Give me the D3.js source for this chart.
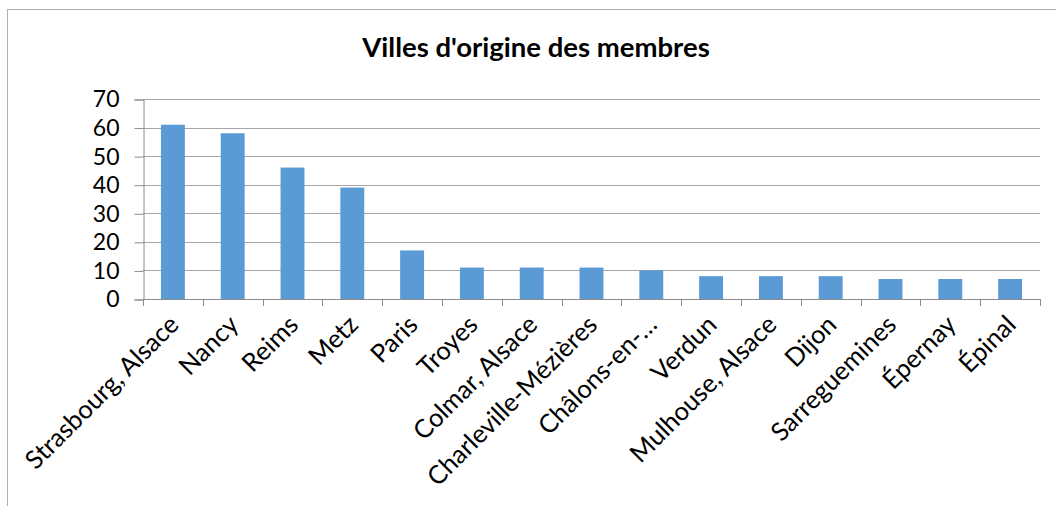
<!DOCTYPE html>
<html lang="fr">
<head>
<meta charset="UTF-8">
<title>Villes d'origine des membres</title>
<script src="https://d3js.org/d3.v7.min.js"></script>
<style>
  body { margin: 0; background: #fff; }
  svg { display: block; font-family: Lato, "Open Sans", sans-serif; }
</style>
</head>
<body>
<div id="chart"></div>
<script>
// données
const villes = ["Strasbourg, Alsace", "Nancy", "Reims", "Metz", "Paris", "Troyes",
  "Colmar, Alsace", "Charleville-Mézières", "Châlons-en-…", "Verdun",
  "Mulhouse, Alsace", "Dijon", "Sarreguemines", "Épernay", "Épinal"];
const membres = [61, 58, 46, 39, 17, 11, 11, 11, 10, 8, 8, 8, 7, 7, 7];
const yTicks = [0, 10, 20, 30, 40, 50, 60, 70];
const titre = "Villes d'origine des membres";

const width = 1056, height = 506;
const plot = { left: 143, right: 1040, top: 99, bottom: 299 };

const svg = d3.select("#chart").append("svg")
  .attr("width", width)
  .attr("height", height);

// cadre du graphique
svg.append("rect")
  .attr("x", 7.5).attr("y", 9.5)
  .attr("width", 1100).attr("height", 600)
  .attr("fill", "none")
  .attr("stroke", "#b0b0b0");

svg.append("text")
  .attr("x", 536).attr("y", 57)
  .attr("text-anchor", "middle")
  .attr("font-weight", "bold")
  .attr("font-size", 27.5)
  .attr("fill", "#000")
  .text(titre);

const x = d3.scaleBand()
  .domain(villes)
  .range([plot.left, plot.right])
  .paddingInner(0.6)
  .paddingOuter(0.3);

const y = d3.scaleLinear()
  .domain([0, 70])
  .range([plot.bottom, plot.top]);

// grille horizontale
svg.append("g")
  .selectAll("line")
  .data(yTicks.filter(d => d > 0))
  .join("line")
  .attr("x1", plot.left).attr("x2", plot.right)
  .attr("y1", d => Math.round(y(d)) + 0.5)
  .attr("y2", d => Math.round(y(d)) + 0.5)
  .attr("stroke", "#a6a6a6");

// axe vertical
const yAxis = svg.append("g")
  .attr("transform", `translate(${plot.left + 0.5},0.5)`)
  .call(d3.axisLeft(y).tickValues(yTicks).tickSize(9).tickPadding(15));
yAxis.select(".domain").attr("stroke", "#8c8c8c");
yAxis.selectAll(".tick line").attr("stroke", "#8c8c8c");
yAxis.selectAll(".tick text")
  .attr("font-size", 23)
  .attr("font-family", "Lato, sans-serif")
  .attr("fill", "#000");

// barres
svg.append("g")
  .selectAll("rect")
  .data(villes.map((v, i) => ({ ville: v, n: membres[i] })))
  .join("rect")
  .attr("x", d => x(d.ville))
  .attr("y", d => y(d.n))
  .attr("width", x.bandwidth())
  .attr("height", d => y(0) - y(d.n))
  .attr("fill", "#5b9bd5");

// axe horizontal avec graduations entre les catégories
const step = x.step();
const bornes = villes.map(v => x(v) - step * 0.3).concat([plot.right]);
const xg = svg.append("g");
xg.append("line")
  .attr("x1", plot.left).attr("x2", plot.right)
  .attr("y1", plot.bottom + 0.5).attr("y2", plot.bottom + 0.5)
  .attr("stroke", "#8c8c8c");
xg.selectAll("line.tick")
  .data(bornes)
  .join("line")
  .attr("class", "tick")
  .attr("x1", d => Math.round(d) + 0.5).attr("x2", d => Math.round(d) + 0.5)
  .attr("y1", plot.bottom).attr("y2", plot.bottom + 7)
  .attr("stroke", "#8c8c8c");

xg.selectAll("text")
  .data(villes)
  .join("text")
  .attr("transform", d => `translate(${x(d) + x.bandwidth() / 2 + 1},${plot.bottom + 21}) rotate(-45)`)
  .attr("text-anchor", "end")
  .attr("dy", "0.35em")
  .attr("font-size", 25.5)
  .attr("fill", "#000")
  .text(d => d);
</script>
</body>
</html>
